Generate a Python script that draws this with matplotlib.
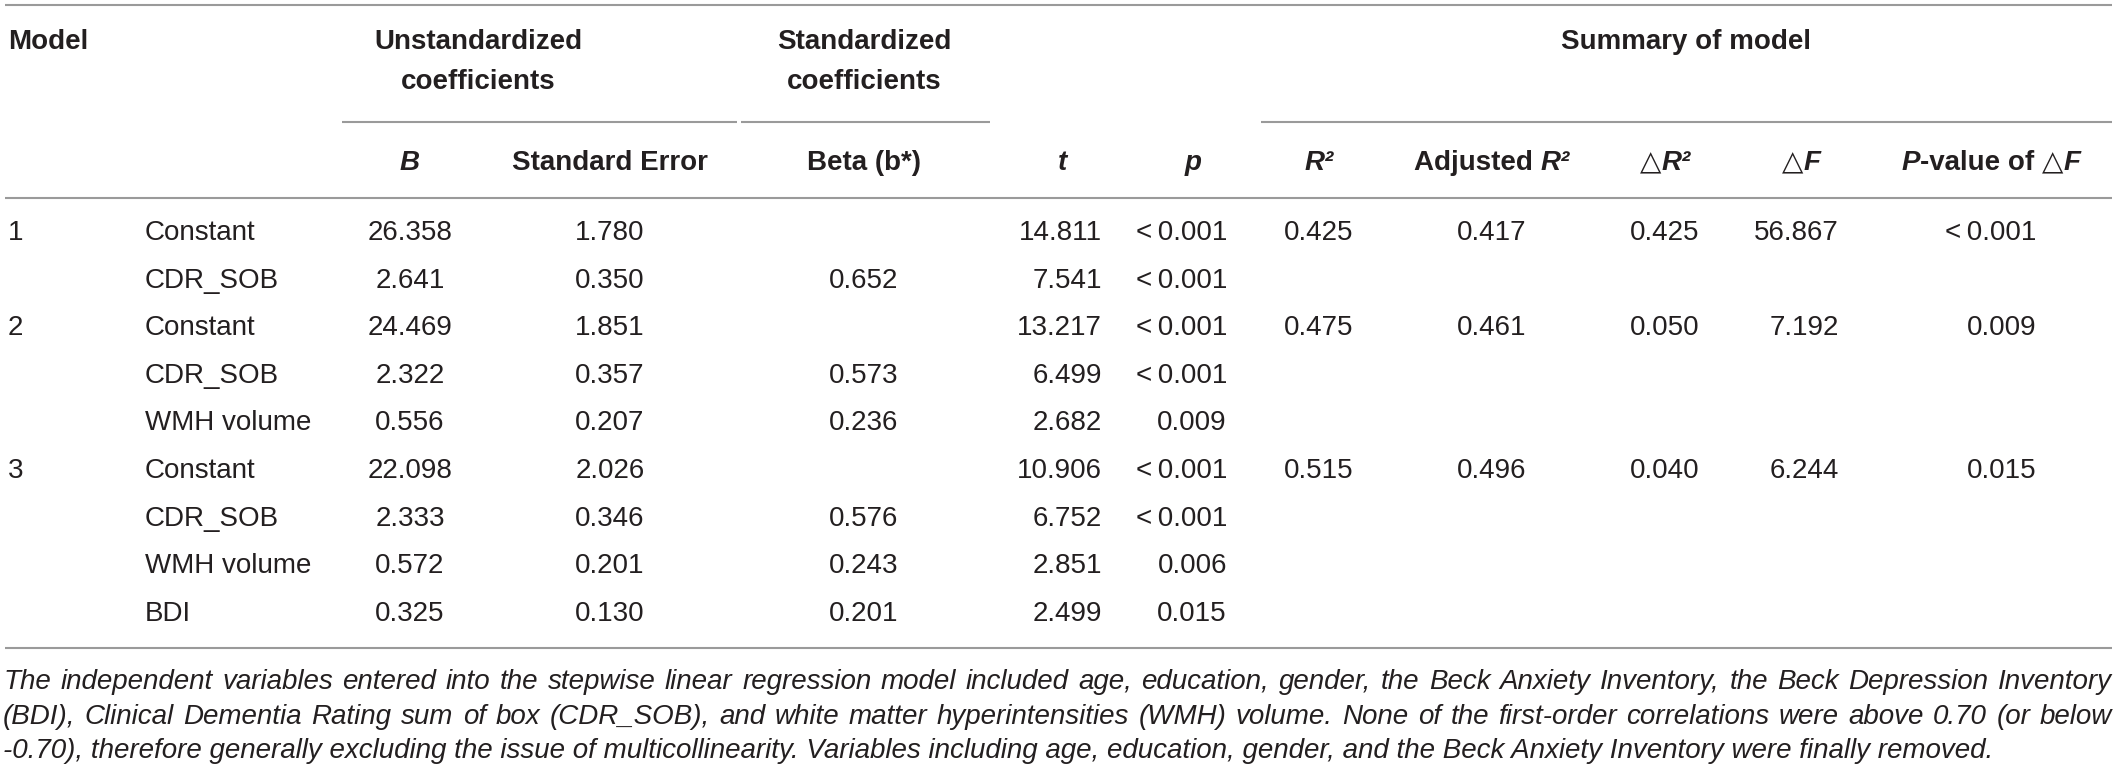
import matplotlib.pyplot as plt

FONT = ["Liberation Sans", "DejaVu Sans"]
plt.rcParams["font.family"] = FONT
TXT = "#231f20"
LINE = "#9a9a9a"

model_no = ["1", "", "2", "", "", "3", "", "", ""]
variables = ["Constant", "CDR_SOB", "Constant", "CDR_SOB", "WMH volume",
             "Constant", "CDR_SOB", "WMH volume", "BDI"]
b_vals = ["26.358", "2.641", "24.469", "2.322", "0.556", "22.098", "2.333", "0.572", "0.325"]
se_vals = ["1.780", "0.350", "1.851", "0.357", "0.207", "2.026", "0.346", "0.201", "0.130"]
beta_vals = ["", "0.652", "", "0.573", "0.236", "", "0.576", "0.243", "0.201"]
t_vals = ["14.811", "7.541", "13.217", "6.499", "2.682", "10.906", "6.752", "2.851", "2.499"]
p_vals = ["<0.001", "<0.001", "<0.001", "<0.001", "0.009", "<0.001", "<0.001", "0.006", "0.015"]
r2_vals = ["0.425", "", "0.475", "", "", "0.515", "", "", ""]
adj_vals = ["0.417", "", "0.461", "", "", "0.496", "", "", ""]
dr2_vals = ["0.425", "", "0.050", "", "", "0.040", "", "", ""]
df_vals = ["56.867", "", "7.192", "", "", "6.244", "", "", ""]
pf_vals = ["<0.001", "", "0.009", "", "", "0.015", "", "", ""]

footnote = [
    "The independent variables entered into the stepwise linear regression model included age, education, gender, the Beck Anxiety Inventory, the Beck Depression Inventory",
    "(BDI), Clinical Dementia Rating sum of box (CDR_SOB), and white matter hyperintensities (WMH) volume. None of the first-order correlations were above 0.70 (or below",
    "-0.70), therefore generally excluding the issue of multicollinearity. Variables including age, education, gender, and the Beck Anxiety Inventory were finally removed.",
]

W, H = 2118, 771
fig = plt.figure(figsize=(W / 100, H / 100), dpi=100)
ax = fig.add_axes([0, 0, 1, 1])
ax.set_xlim(0, W)
ax.set_ylim(H, 0)
ax.axis("off")
renderer = fig.canvas.get_renderer()

FS = 20
RIGHT = 2112


def fmt_p(s):
    return s.replace("<", "<\u2009")


def t(x, y, s, ha="center", weight="normal", style="normal", size=FS):
    return ax.text(x, y, s, ha=ha, va="center", fontsize=size, color=TXT,
                   fontweight=weight, fontstyle=style, family=FONT)


def hline(x0, x1, y):
    ax.plot([x0, x1], [y, y], color=LINE, lw=1.5, solid_capstyle="butt")


def width(o):
    return o.get_window_extent(renderer).width


def mixed(xc, y, parts):
    # header made of pieces (text, style, weight), centred as a whole at xc
    objs = [t(0, y, s, ha="left", weight=w, style=st) for s, st, w in parts]
    ws = [width(o) for o in objs]
    x = xc - sum(ws) / 2
    for o, w in zip(objs, ws):
        o.set_x(x)
        x += w


# rules
hline(5, RIGHT, 5)
hline(342, 737, 122)
hline(741, 990, 122)
hline(1261, RIGHT, 122)
hline(5, RIGHT, 198)
hline(5, RIGHT, 648)

# header row 1
t(8, 42, "Model", ha="left", weight="bold")
t(478, 42, "Unstandardized", weight="bold")
t(478, 82, "coefficients", weight="bold")
t(864, 42, "Standardized", weight="bold")
t(864, 82, "coefficients", weight="bold")
t(1686, 42, "Summary of model", weight="bold")

# header row 2
hy = 163
B, N, I = "bold", "normal", "italic"
mixed(410, hy, [("B", I, B)])
mixed(610, hy, [("Standard Error", N, B)])
mixed(864, hy, [("Beta (b*)", N, B)])
mixed(1062, hy, [("t", I, B)])
mixed(1193, hy, [("p", I, B)])
mixed(1319, hy, [("R²", I, B)])
mixed(1492, hy, [("Adjusted ", N, B), ("R²", I, B)])
mixed(1665, hy, [("\u25b3", N, N), ("R²", I, B)])
mixed(1801, hy, [("\u25b3", N, N), ("F", I, B)])
mixed(1991, hy, [("P", I, B), ("-value of ", N, B), ("\u25b3", N, N), ("F", I, B)])

# body
y0, dy = 233, 47.6
for i in range(len(variables)):
    y = y0 + i * dy
    t(8, y, model_no[i], ha="left")
    t(145, y, variables[i], ha="left")
    t(410, y, b_vals[i])
    t(610, y, se_vals[i])
    t(864, y, beta_vals[i])
    t(1102, y, t_vals[i], ha="right")
    t(1227, y, fmt_p(p_vals[i]), ha="right")
    t(1319, y, r2_vals[i])
    t(1492, y, adj_vals[i])
    t(1665, y, dr2_vals[i])
    t(1839, y, df_vals[i], ha="right")
    t(2036, y, fmt_p(pf_vals[i]), ha="right")

# footnote, first two lines justified to the table width
fs_note = FS
probe = t(0, -100, footnote[0], ha="left", style="italic", size=fs_note)
natural = max(width(probe), 0)
probe.remove()
for line in footnote[:2]:
    p = t(0, -100, line, ha="left", style="italic", size=fs_note)
    natural = max(natural, width(p))
    p.remove()
if natural > RIGHT - 3:
    fs_note = fs_note * (RIGHT - 3) / natural * 0.995

for k, line in enumerate(footnote):
    y = 682 + k * 34.5
    if k == len(footnote) - 1:
        t(3, y, line, ha="left", style="italic", size=fs_note)
        continue
    words = [t(0, y, w, ha="left", style="italic", size=fs_note) for w in line.split(" ")]
    ws = [width(o) for o in words]
    gap = (RIGHT - 3 - sum(ws)) / (len(words) - 1)
    x = 3
    for o, w in zip(words, ws):
        o.set_x(x)
        x += w + gap

fig.savefig("out.png", dpi=100)
